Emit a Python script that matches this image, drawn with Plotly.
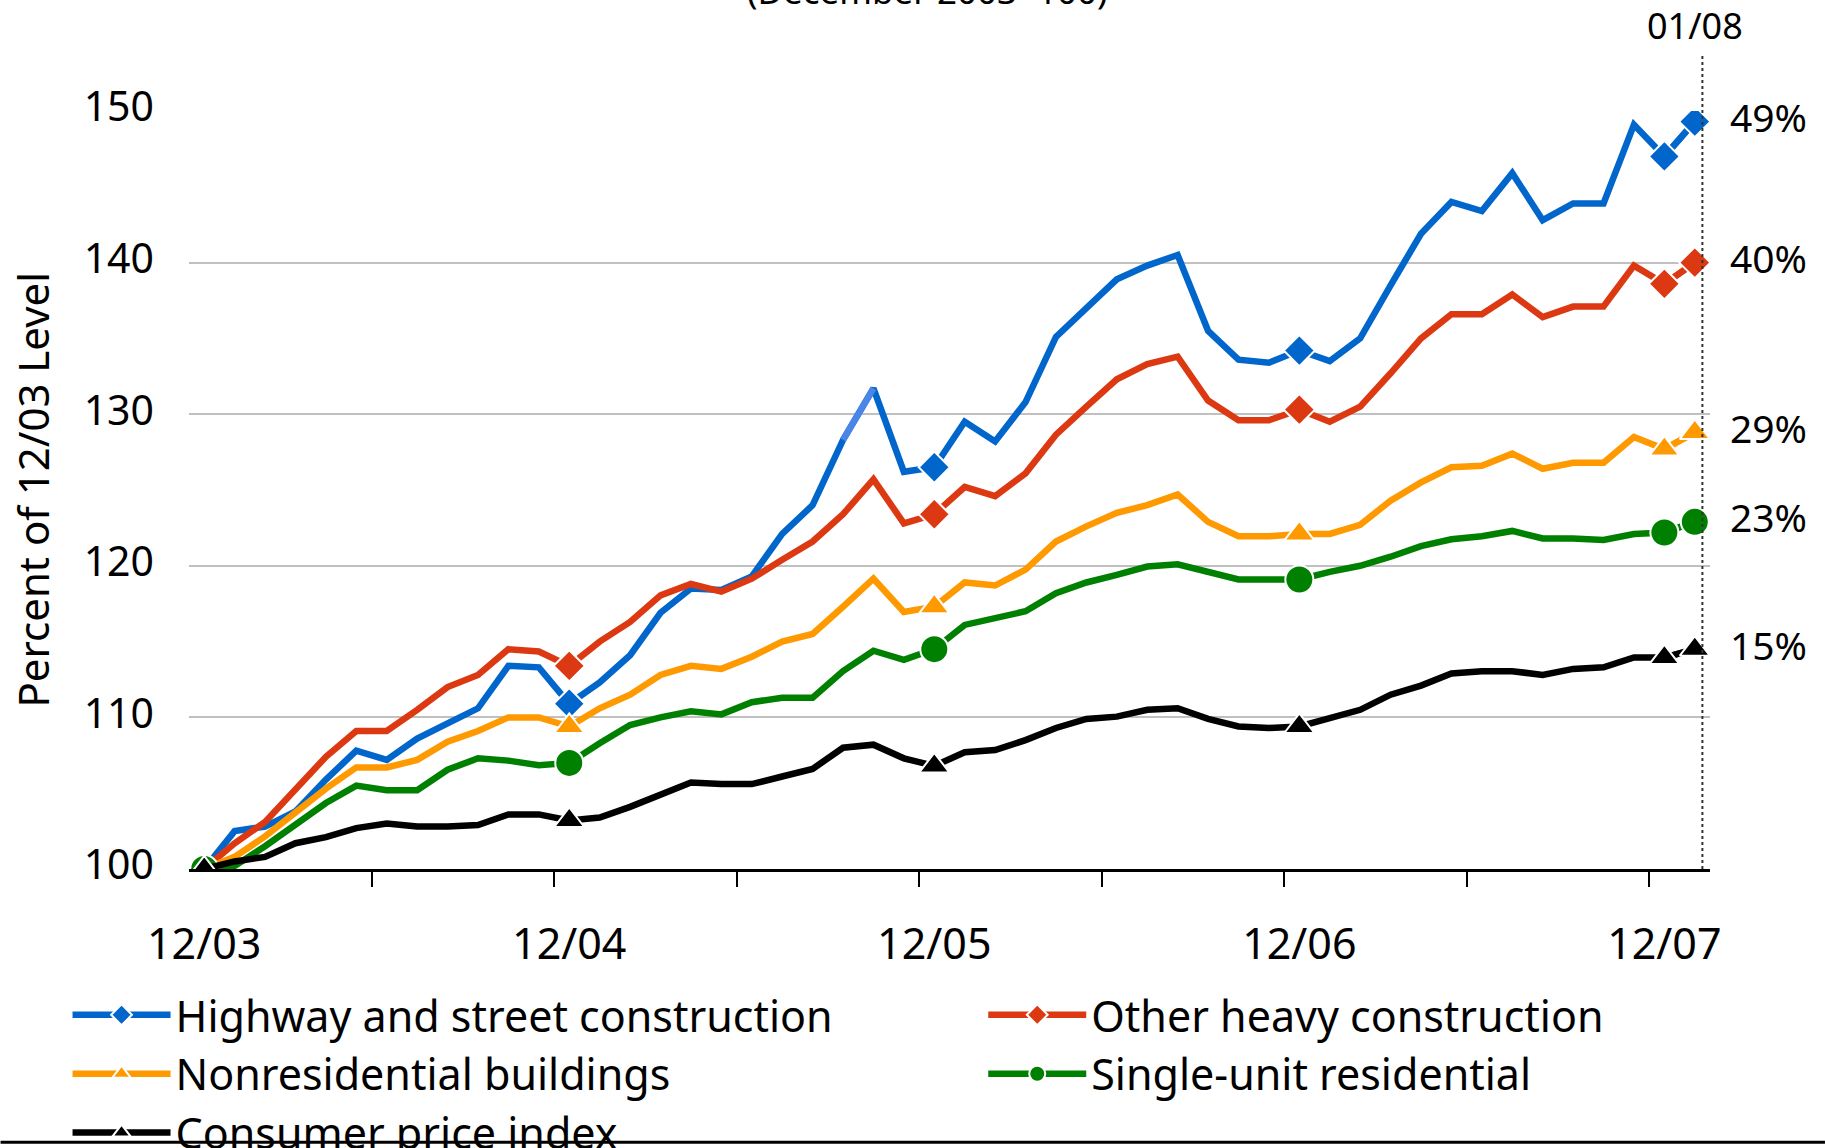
import plotly.graph_objects as go

# ---- data (index 0 = 12/03 ... index 49 = 01/08, monthly) ----
month_index = list(range(50))
tick_positions = [0, 12, 24, 36, 48]
tick_labels = ["12/03", "12/04", "12/05", "12/06", "12/07"]
marker_positions = [0, 12, 24, 36, 48, 49]
end_label = "01/08"

highway = [100.0, 102.5, 102.8, 103.8, 105.9, 107.8, 107.2, 108.6, 109.6, 110.6, 113.4, 113.3, 110.9,
           112.3, 114.1, 116.9, 118.5, 118.4, 119.3, 122.1, 124.0, 128.3, 131.7, 126.2, 126.5,
           129.5, 128.2, 130.8, 135.1, 137.0, 138.9, 139.8, 140.5, 135.5, 133.6, 133.4, 134.2,
           133.5, 135.0, 138.5, 141.9, 144.0, 143.4, 145.9, 142.8, 143.9, 143.9, 149.1, 147.0, 149.3]
other_heavy = [100.0, 101.7, 103.1, 105.3, 107.4, 109.1, 109.1, 110.5, 112.0, 112.8, 114.5, 114.35, 113.4,
               115.0, 116.3, 118.05, 118.8, 118.3, 119.15, 120.4, 121.6, 123.4, 125.7, 122.8, 123.4,
               125.2, 124.6, 126.1, 128.65, 130.5, 132.3, 133.3, 133.8, 130.9, 129.6, 129.6, 130.3,
               129.5, 130.5, 132.7, 135.0, 136.6, 136.6, 137.9, 136.4, 137.1, 137.1, 139.8, 138.6, 140.0]
nonres = [100.0, 100.8, 102.15, 103.7, 105.3, 106.7, 106.7, 107.2, 108.4, 109.1, 110.0, 110.0, 109.4,
          110.6, 111.5, 112.8, 113.4, 113.2, 114.0, 115.0, 115.5, 117.3, 119.15, 116.95, 117.3,
          118.9, 118.7, 119.75, 121.6, 122.6, 123.5, 124.0, 124.7, 122.9, 121.95, 121.95, 122.1,
          122.1, 122.7, 124.3, 125.5, 126.5, 126.6, 127.4, 126.4, 126.8, 126.8, 128.5, 127.7, 128.8]
single_unit = [100.0, 100.2, 101.5, 102.9, 104.35, 105.5, 105.2, 105.2, 106.55, 107.3, 107.15, 106.85, 107.0,
               108.3, 109.5, 110.0, 110.4, 110.2, 111.0, 111.3, 111.3, 113.05, 114.4, 113.8, 114.5,
               116.1, 116.5, 117.0, 118.2, 118.9, 119.4, 119.95, 120.1, 119.6, 119.1, 119.1, 119.1,
               119.6, 120.0, 120.6, 121.3, 121.75, 121.95, 122.3, 121.8, 121.8, 121.7, 122.1, 122.2, 122.9]
cpi = [100.0, 100.5, 100.8, 101.7, 102.1, 102.7, 103.0, 102.8, 102.8, 102.9, 103.6, 103.6, 103.2,
       103.4, 104.1, 104.9, 105.7, 105.6, 105.6, 106.1, 106.6, 108.0, 108.2, 107.3, 106.8,
       107.7, 107.85, 108.5, 109.3, 109.9, 110.05, 110.5, 110.6, 109.9, 109.4, 109.3, 109.4,
       109.95, 110.5, 111.5, 112.1, 112.9, 113.05, 113.05, 112.8, 113.2, 113.3, 113.95, 113.95, 114.5]

series_names = ["Highway and street construction", "Other heavy construction",
                "Nonresidential buildings", "Single-unit residential", "Consumer price index"]
series_values = [highway, other_heavy, nonres, single_unit, cpi]
pct_labels = ["49%", "40%", "29%", "23%", "15%"]

colors = ["#0066CC", "#DC3912", "#FF9900", "#008000", "#000000"]
symbols = ["diamond", "diamond", "triangle-up", "circle", "triangle-up"]
msizes = [24, 24, 26, 28, 26]
legend_ids = ["legend", "legend2", "legend", "legend2", "legend"]

FONT = "Noto Sans"
LW = 6.5

fig = go.Figure()
for name, vals, col, sym, ms, lg in zip(series_names, series_values, colors, symbols, msizes, legend_ids):
    fig.add_trace(go.Scatter(x=month_index, y=vals, mode="lines", showlegend=False,
                             line=dict(color=col, width=LW), hoverinfo="skip"))
    if name == series_names[0]:
        # lighter-coloured segment visible in the original
        fig.add_trace(go.Scatter(x=month_index[21:23], y=vals[21:23], mode="lines", showlegend=False,
                                 line=dict(color="#4A86E8", width=LW), hoverinfo="skip"))
    my = [v if i in marker_positions else None for i, v in zip(month_index, vals)]
    fig.add_trace(go.Scatter(x=month_index, y=my, mode="lines+markers", name=name,
                             connectgaps=False, legend=lg,
                             line=dict(color=col, width=LW),
                             marker=dict(symbol=sym, size=ms, color=col,
                                         line=dict(color="white", width=2))))

W, H = 1825, 1148
L, R, T, B = 188.5, 1710.0, 110.6, 869.5
PW, PH = R - L, B - T

def py(p):
    return (B - p) / PH

def px(p):
    return (p - L) / PW

annotations = []
for lab, vals in zip(pct_labels, series_values):
    annotations.append(dict(x=1, xref="paper", y=vals[-1], yref="y", text=lab, showarrow=False,
                            xanchor="left", yanchor="middle", xshift=18, yshift=5,
                            font=dict(family=FONT, size=39, color="black")))
annotations.append(dict(x=month_index[-1], xref="x", y=py(24.5), yref="paper", text=end_label,
                        showarrow=False, xanchor="center", yanchor="middle",
                        font=dict(family=FONT, size=36, color="black")))
annotations.append(dict(x=px(927), xref="paper", y=py(-10), yref="paper", text="(December 2003=100)",
                        showarrow=False, xanchor="center", yanchor="middle",
                        font=dict(family=FONT, size=35, color="black")))
annotations.append(dict(x=px(31), xref="paper", y=0.5, yref="paper", text="Percent of 12/03 Level",
                        textangle=-90, showarrow=False, xanchor="center", yanchor="middle",
                        font=dict(family=FONT, size=42, color="black")))

shapes = [
    dict(type="line", xref="x", yref="paper", x0=month_index[-1] + 0.25, x1=month_index[-1] + 0.25,
         y0=0, y1=py(54.6), line=dict(color="#333333", width=2, dash="dot")),
    dict(type="line", xref="paper", yref="paper", x0=px(0), x1=px(W), y0=py(1143), y1=py(1143),
         line=dict(color="black", width=3)),
]

legend_common = dict(orientation="v", xanchor="left", yanchor="top",
                     font=dict(family=FONT, size=43, color="black"), itemwidth=98,
                     traceorder="normal", tracegroupgap=0, bgcolor="rgba(0,0,0,0)")

fig.update_layout(
    width=W, height=H,
    margin=dict(l=L, r=W - R, t=T, b=H - B, autoexpand=False),
    paper_bgcolor="white", plot_bgcolor="white",
    font=dict(family=FONT, color="black"),
    showlegend=True,
    legend=dict(x=px(67), y=py(981), **legend_common),
    legend2=dict(x=px(983), y=py(981), **legend_common),
    xaxis=dict(range=[-0.5, 49.5], showgrid=False, zeroline=False, showline=True,
               linecolor="black", linewidth=2.5, tickvals=tick_positions, ticktext=tick_labels,
               ticks="", ticklabelstandoff=36, tickfont=dict(family=FONT, size=43, color="black"),
               minor=dict(tickvals=[5.5 + 6 * k for k in range(8)], ticks="outside", ticklen=15,
                          tickwidth=2, tickcolor="black", showgrid=False)),
    yaxis=dict(range=[100, 150], tickvals=[100, 110, 120, 130, 140, 150], showgrid=True,
               gridcolor="#C0C0C0", gridwidth=2, zeroline=False, showline=False, ticks="",
               ticklabelstandoff=34, ticklabelshift=-4,
               tickfont=dict(family=FONT, size=41, color="black")),
    annotations=annotations,
    shapes=shapes,
)

fig.write_html("out.html", config={"displayModeBar": False},
               post_script="document.body.style.margin='0px';document.body.style.overflow='hidden';")
